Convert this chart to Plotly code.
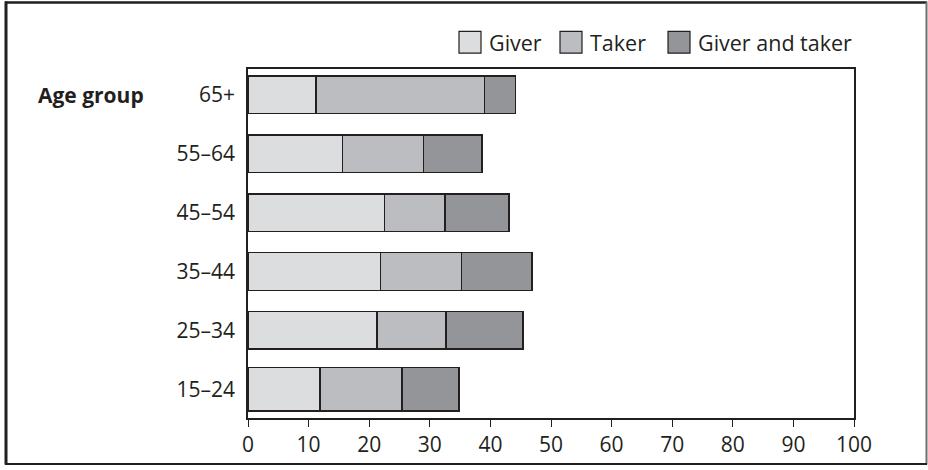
import plotly.graph_objects as go

# Age groups, bottom to top
age_groups = ["15–24", "25–34", "35–44", "45–54", "55–64", "65+"]
giver = [11.9, 21.3, 21.9, 22.5, 15.6, 11.2]
taker = [13.5, 11.4, 13.3, 10.0, 13.4, 27.8]
giver_and_taker = [9.4, 12.7, 11.7, 10.6, 9.6, 5.1]
x_ticks = [0, 10, 20, 30, 40, 50, 60, 70, 80, 90, 100]

series_names = ["Giver", "Taker", "Giver and taker"]
series_values = [giver, taker, giver_and_taker]
series_colors = ["#dcdddf", "#bcbdc0", "#939598"]

INK = "#231f20"
FONT = "Open Sans"
W, H = 928, 470
L, R, T, B = 248, 74, 69, 49
PW, PH = W - L - R, H - T - B


def px(x):
    return (x - L) / PW


def py(y):
    return (H - B - y) / PH


bar_widths = [0.74, 0.64, 0.64, 0.64, 0.64, 0.64]

fig = go.Figure()
for name, vals, col in zip(series_names, series_values, series_colors):
    fig.add_trace(go.Bar(
        y=age_groups, x=vals, name=name, orientation="h",
        width=bar_widths,
        marker=dict(color=col, line=dict(color=INK, width=1.5)),
        showlegend=False,
    ))

shapes = []
annotations = []

# Outer frame
shapes.append(dict(type="line", xref="paper", yref="paper",
                   x0=px(6), x1=px(6), y0=py(1), y1=py(468),
                   line=dict(color=INK, width=3)))
shapes.append(dict(type="line", xref="paper", yref="paper",
                   x0=px(5), x1=px(927), y0=py(2), y1=py(2),
                   line=dict(color=INK, width=2.5)))
shapes.append(dict(type="line", xref="paper", yref="paper",
                   x0=px(926.5), x1=px(926.5), y0=py(1), y1=py(468),
                   line=dict(color="#6d6e70", width=2)))
shapes.append(dict(type="line", xref="paper", yref="paper",
                   x0=px(5), x1=px(927), y0=py(467.5), y1=py(467.5),
                   line=dict(color=INK, width=2)))

# Legend swatches and labels
legend_items = [(459, 487), (560, 588), (668, 696)]
for (bx, tx), name, col in zip(legend_items, series_names, series_colors):
    shapes.append(dict(type="rect", xref="paper", yref="paper",
                       x0=px(bx), x1=px(bx + 22), y0=py(53), y1=py(31),
                       fillcolor=col, line=dict(color=INK, width=1.2)))
    annotations.append(dict(text=name, xref="paper", yref="paper",
                            x=px(tx), y=py(42), xanchor="left", yanchor="middle",
                            showarrow=False,
                            font=dict(family=FONT, size=21.5, color=INK)))

annotations.append(dict(text="<b>Age group</b>", xref="paper", yref="paper",
                        x=px(36), y=py(95), xanchor="left", yanchor="middle",
                        showarrow=False,
                        font=dict(family=FONT, size=21, color=INK)))

fig.update_layout(
    width=W, height=H,
    margin=dict(l=L, r=R, t=T, b=B, pad=0),
    paper_bgcolor="white", plot_bgcolor="white",
    barmode="stack",
    shapes=shapes,
    annotations=annotations,
    xaxis=dict(
        range=[0, 100], tickvals=x_ticks, ticktext=[str(v) for v in x_ticks],
        showgrid=False, zeroline=False,
        showline=True, linecolor=INK, linewidth=1.5, mirror=True,
        ticks="outside", ticklen=7, tickwidth=1.3, tickcolor=INK,
        tickfont=dict(family=FONT, size=21, color=INK),
        ticklabelstandoff=0,
    ),
    yaxis=dict(
        categoryorder="array", categoryarray=age_groups,
        range=[-0.49, 5.44],
        showgrid=False, zeroline=False,
        showline=True, linecolor=INK, linewidth=1.5, mirror=True,
        ticks="", ticklabelstandoff=7,
        tickfont=dict(family=FONT, size=21, color=INK),
    ),
)

fig.write_html("out.html")
